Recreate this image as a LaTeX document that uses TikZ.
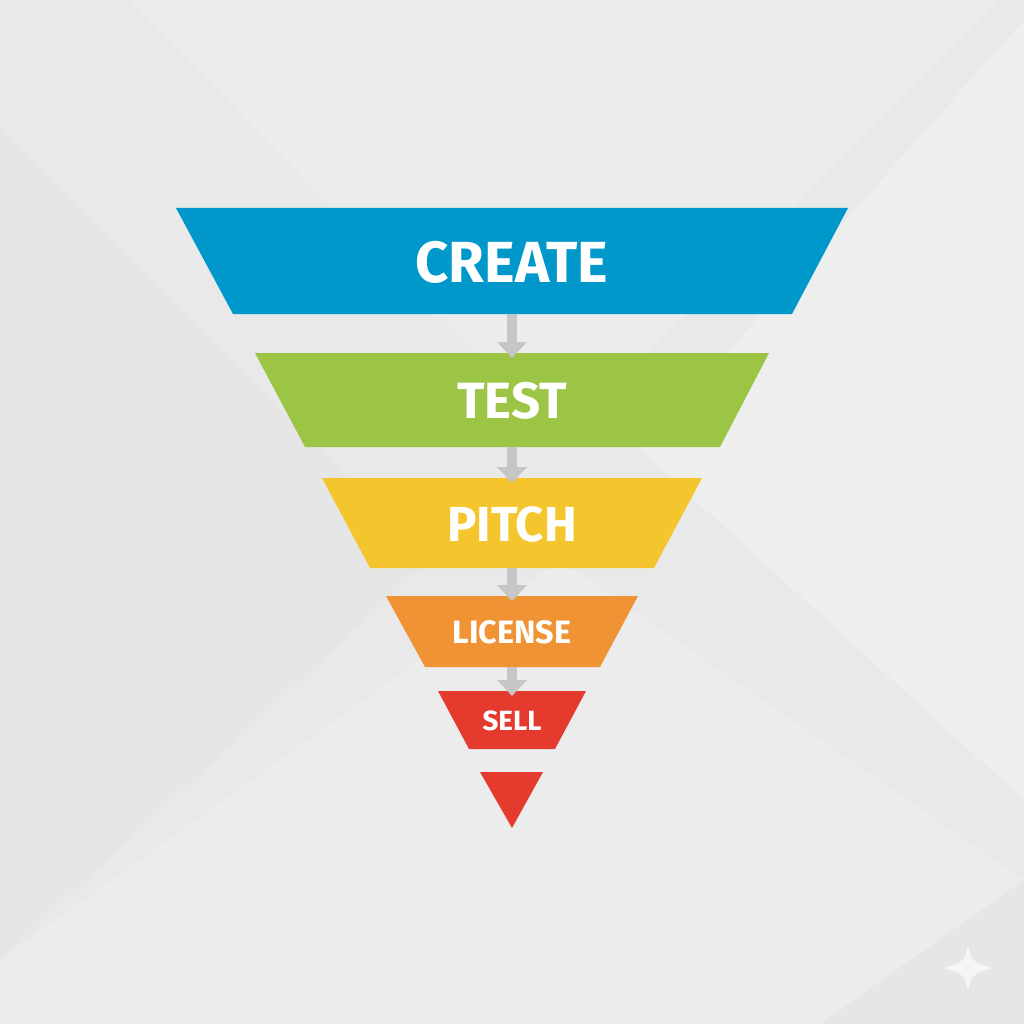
\documentclass[tikz,border=0pt]{standalone}
\usepackage{fontspec}
\setmainfont{Fira Sans}
\usetikzlibrary{arrows.meta}
\definecolor{bgbase}{HTML}{E9E9E9}
\definecolor{bglight}{HTML}{ECECEC}
\definecolor{bglighter}{HTML}{EEEEEE}
\definecolor{bgdark}{HTML}{E6E6E6}
\definecolor{cblue}{HTML}{0098CB}
\definecolor{cgreen}{HTML}{9DC545}
\definecolor{cyellow}{HTML}{F5C52D}
\definecolor{corange}{HTML}{F09335}
\definecolor{cred}{HTML}{E53B2F}
\definecolor{carrow}{HTML}{C6C6C6}
\definecolor{sparkle}{HTML}{F6F6F6}
\tikzset{
  stagelabel/.style={text=white, font=\bfseries, inner sep=0pt, anchor=center},
  flowarrow/.style={draw=carrow, line width=1mm, -{Triangle[width=2.9mm,length=1.6mm]}, shorten >=-0.5mm},
}
\begin{document}
\begin{tikzpicture}[x=0.1mm,y=-0.1mm]
% background
\fill[bgbase] (0,0) rectangle (1024,1024);
\useasboundingbox (0,0) rectangle (1024,1024);
\fill[bglight] (130,0) -- (1000,0) -- (560,440) -- cycle;
\fill[bglighter] (1024,20) -- (1024,800) -- (640,450) -- cycle;
\fill[bglight] (0,960) -- (0,1024) -- (1024,1024) -- (1024,880) -- (560,560) -- cycle;
\fill[bgdark] (0,130) -- (430,560) -- (0,960) -- cycle;
\fill[bgdark] (820,1024) -- (1024,880) -- (1024,1024) -- cycle;
% sparkle
\fill[sparkle] (968,944) .. controls (971,961) .. (992,968) .. controls (971,975) .. (968,992) .. controls (965,975) .. (944,968) .. controls (965,961) .. (968,944) -- cycle;
% stages
\coordinate (t1) at (512,208); \coordinate (b1) at (512,314);
\fill[cblue] (176,208) -- (848,208) -- (792,314) -- (233,314) -- cycle;
\coordinate (t2) at (512,353); \coordinate (b2) at (512,447);
\fill[cgreen] (255,353) -- (769,353) -- (720,447) -- (305,447) -- cycle;
\coordinate (t3) at (512,478); \coordinate (b3) at (512,568);
\fill[cyellow] (322,478) -- (702,478) -- (654,568) -- (370,568) -- cycle;
\coordinate (t4) at (512,596); \coordinate (b4) at (512,667);
\fill[corange] (386,596) -- (638,596) -- (600,667) -- (425,667) -- cycle;
\coordinate (t5) at (512,691); \coordinate (b5) at (512,749);
\fill[cred] (438,691) -- (586,691) -- (555,749) -- (469,749) -- cycle;
\fill[cred] (480,772) -- (543,772) -- (512,828) -- cycle;
% labels
\node[stagelabel, font=\bfseries\fontsize{16.5}{18}\selectfont] (create) at (512,262) {CREATE};
\node[stagelabel, font=\bfseries\fontsize{14.5}{16}\selectfont] (test) at (512,401) {TEST};
\node[stagelabel, font=\bfseries\fontsize{14}{16}\selectfont] (pitch) at (512,524) {PITCH};
\node[stagelabel, font=\bfseries\fontsize{9.2}{10}\selectfont] (license) at (512,632) {LICENSE};
\node[stagelabel, font=\bfseries\fontsize{7.9}{9}\selectfont] (sell) at (512,721) {SELL};
% arrows
\draw[flowarrow] (b1) -- (t2);
\draw[flowarrow] (b2) -- (t3);
\draw[flowarrow] (b3) -- (t4);
\draw[flowarrow] (b4) -- (t5);
\end{tikzpicture}
\end{document}
